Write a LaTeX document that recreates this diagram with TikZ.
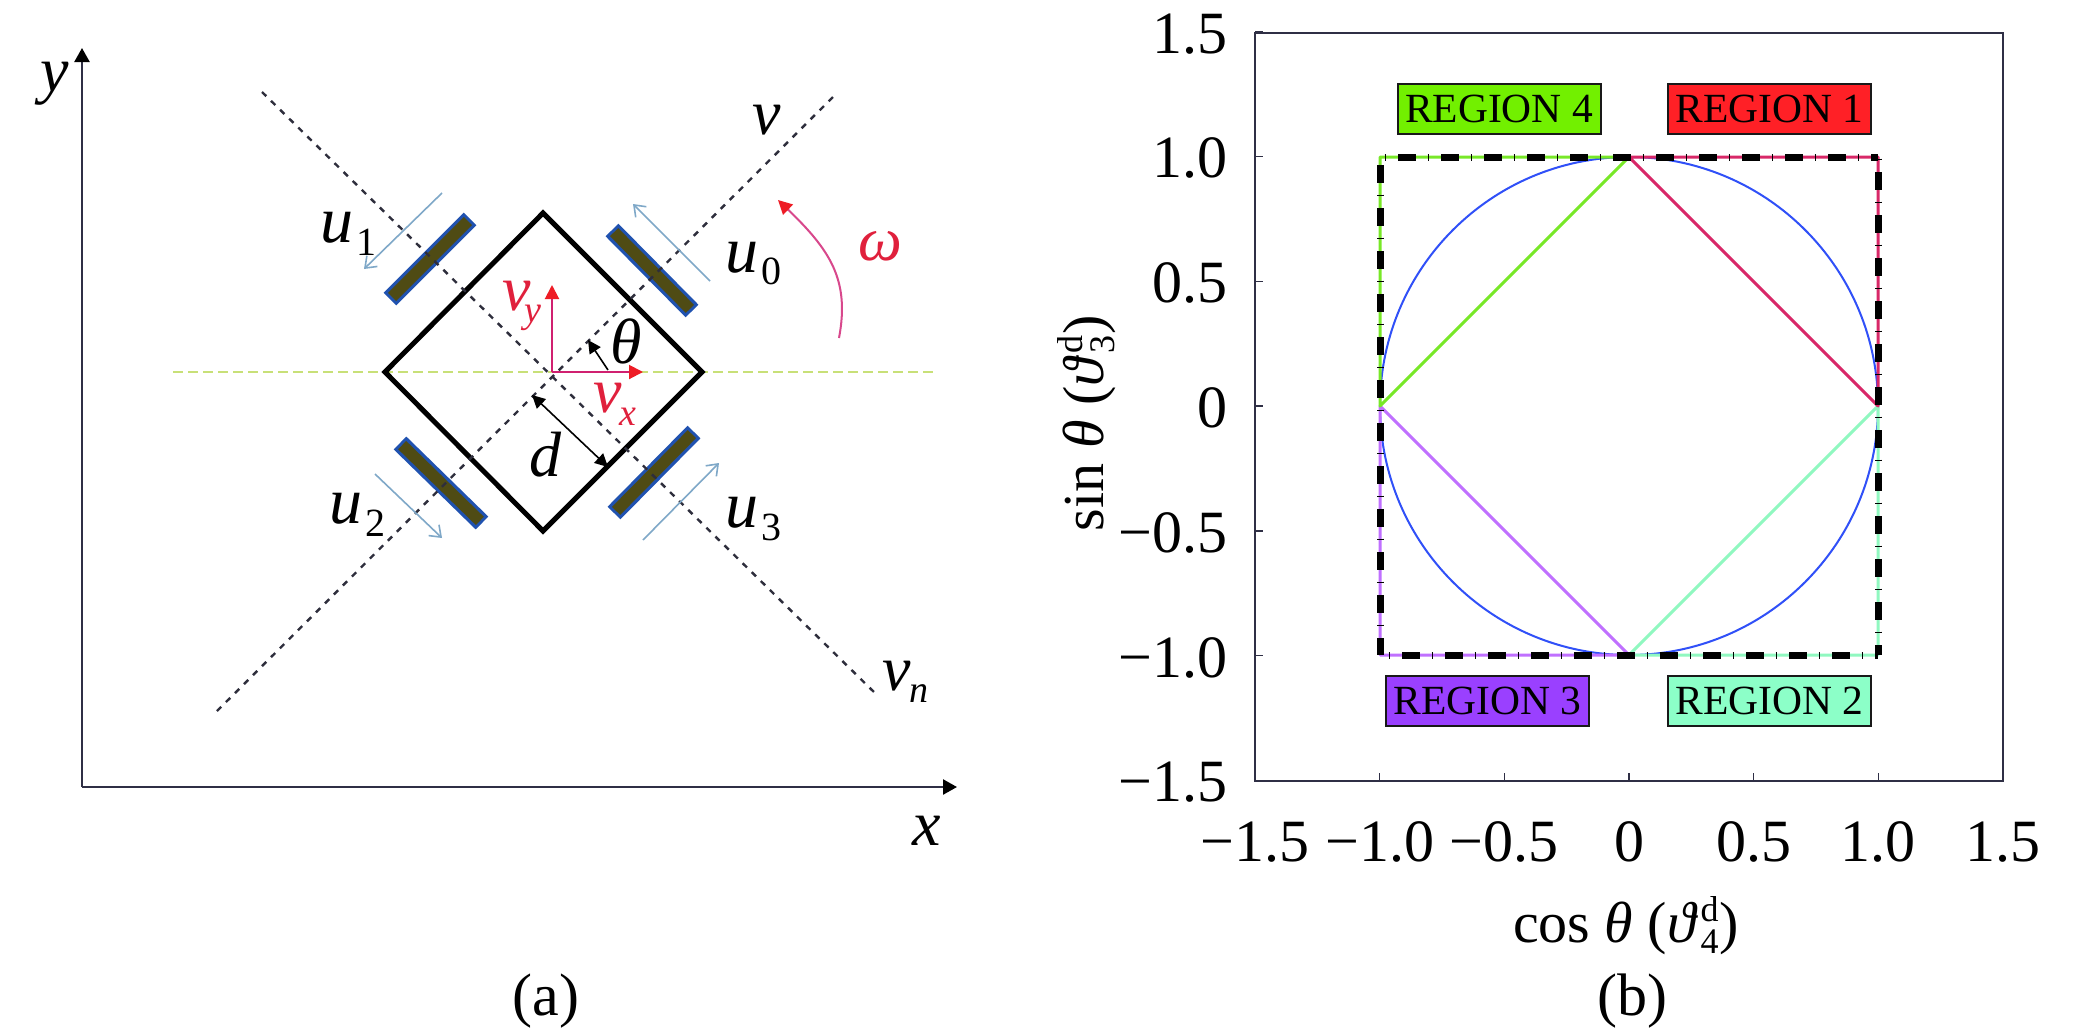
\documentclass[tikz,border=0pt]{standalone}
\usepackage{fontspec}
\setmainfont{Liberation Serif}
\usetikzlibrary{arrows.meta}
\definecolor{axisdark}{HTML}{2F2F45}
\definecolor{dashdark}{HTML}{2E2E3C}
\definecolor{greenline}{HTML}{C8E078}
\definecolor{wheelblue}{HTML}{2052B0}
\definecolor{wheelolive}{HTML}{4F4B14}
\definecolor{arrowblue}{HTML}{7FA8C8}
\definecolor{redtext}{HTML}{E0203C}
\definecolor{redshaft}{HTML}{D02070}
\definecolor{redhead}{HTML}{EE1C25}
\definecolor{omegashaft}{HTML}{D8488C}
\definecolor{regA}{HTML}{FF2026}
\definecolor{regB}{HTML}{8CFFC8}
\definecolor{regC}{HTML}{9A40FF}
\definecolor{regD}{HTML}{72F000}
\definecolor{lineA}{HTML}{D82868}
\definecolor{lineB}{HTML}{90F8C0}
\definecolor{lineC}{HTML}{C070FF}
\definecolor{lineD}{HTML}{78E828}
\definecolor{circ}{HTML}{3050F8}
\newcommand{\fsz}[1]{\fontsize{#1}{#1}\selectfont}
% main letter, subscript, drop, kern, subscript size, main size
\newcommand{\symb}[6]{\fsz{#6}\itshape #1\kern#4pt\raisebox{-#3pt}{\fsz{#5}#2}}
\newcommand{\symn}[6]{\fsz{#6}\itshape #1\kern#4pt\raisebox{-#3pt}{\fsz{#5}\upshape #2}}
% theta-like letter with superscript d and lower index
\newcommand{\varth}[1]{\itshape\symbol{"03D1}\upshape\kern5pt\rlap{\raisebox{21pt}{\fsz{36}d}}\raisebox{-11pt}{\fsz{36}#1}\kern1pt}
\tikzset{
  txt/.style={inner sep=0pt,outer sep=0pt,anchor=base west},
  axisline/.style={draw=axisdark,line width=2.4pt,-{Triangle[length=14pt,width=15pt,color=black]}},
  guide/.style={draw=dashdark,line width=2.4pt,dash pattern=on 6pt off 6.7pt},
  horiz/.style={draw=greenline,line width=2pt,dash pattern=on 10pt off 5pt},
  body/.style={draw=black,line width=5pt,line join=miter},
  wheelout/.style={draw=wheelblue,line width=18pt},
  wheelin/.style={draw=wheelolive,line width=11.5pt,shorten >=3pt,shorten <=3pt},
  thrust/.style={draw=arrowblue,line width=1.6pt,-{Straight Barb[length=10pt,width=15pt]}},
  vel/.style={draw=redshaft,line width=2pt,-{Triangle[length=14pt,width=14pt,color=redhead]}},
  dim/.style={draw=black,line width=1.6pt},
  dimtip/.tip={Triangle[length=13pt,width=13pt]},
  frameline/.style={draw=axisdark,line width=1.8pt},
  tickline/.style={draw=axisdark,line width=1.4pt},
  ticklab/.style={inner sep=0pt,outer sep=0pt,font=\fsz{60}},
  region/.style={draw=black!90,line width=2pt,minimum width=203pt,minimum height=50pt,inner sep=0pt,font=\fsz{41.5}},
  edgeline/.style={line width=3pt},
  bold/.style={draw=black,line width=7pt,dash pattern=on 18pt off 11.7pt on 1.6pt off 11.7pt},
}
\begin{document}
\begin{tikzpicture}[x=1pt,y=-1pt]
\useasboundingbox[fill=white] (0,0) rectangle (2079,1034);
% ---------- panel (a)
\coordinate (org) at (82,787);
\coordinate (ytip) at (82,48);
\coordinate (xtip) at (957,787);
\draw[axisline] (org) -- (ytip);
\draw[axisline] (org) -- (xtip);
\coordinate (hl) at (173,372); \coordinate (hr) at (933,372);
\draw[horiz] (hl) -- (hr);
\coordinate (vs) at (217,711); \coordinate (ve) at (837,93);
\coordinate (ns) at (262,92); \coordinate (ne) at (875,693);
\draw[body] (543,213) -- (702,372) -- (543,531) -- (385,372) -- cycle;
% wheels
\foreach \xa/\ya/\xb/\yb in {470/219/390/299,612/230/692/311,400/443/482/523,694/432/614/513}{
  \draw[wheelout] (\xa,\ya) -- (\xb,\yb);
  \draw[wheelin] (\xa,\ya) -- (\xb,\yb);
}
\draw[guide] (vs) -- (ve);
\draw[guide] (ns) -- (ne);
% wheel thrust arrows
\draw[thrust] (442,193) -- (364,269);
\draw[thrust] (710,281) -- (633,204);
\draw[thrust] (375,474) -- (442,538);
\draw[thrust] (643,540) -- (719,463);
% velocity arrows
\coordinate (vo) at (552,372);
\coordinate (vyt) at (552,285);
\coordinate (vxt) at (643,372);
\draw[vel] (vo) -- (vyt);
\draw[vel] (vo) -- (vxt);
% theta and d
\coordinate (tha) at (608,370); \coordinate (thb) at (588,340);
\draw[dim,-dimtip] (tha) -- (thb);
\coordinate (da) at (532,395); \coordinate (db) at (608,467);
\draw[dim,dimtip-dimtip] (da) -- (db);
% omega
\coordinate (oa) at (839,338); \coordinate (ob) at (778,200);
\draw[draw=omegashaft,line width=2pt,-{Triangle[length=14pt,width=14pt,color=redhead]}] (oa) .. controls (850,280) and (830,250) .. (ob);
% labels (a)
\node[txt] (ly) at (40,91) {\fsz{64}\itshape y};
\node[txt] (lx) at (912,845) {\fsz{64}\itshape x};
\node[txt] (lu1) at (320,242) {\symn{u}{1}{13}{3}{40}{66}};
\node[txt] (lu0) at (725,272) {\symn{u}{0}{12}{3}{40}{66}};
\node[txt] (lu2) at (329,523) {\symn{u}{2}{13}{3}{40}{66}};
\node[txt] (lu3) at (725,527) {\symn{u}{3}{13}{3}{40}{66}};
\node[txt] (lv) at (752,134) {\fsz{64}\itshape v};
\node[txt] (lvn) at (882,690) {\symb{v}{n}{12}{-1}{38}{64}};
\node[txt,text=redtext] (lvy) at (502,310) {\symb{v}{y}{12}{-6}{38}{64}};
\node[txt,text=redtext] (lvx) at (593,412) {\symb{v}{x}{13}{-2}{38}{64}};
\node[txt] (lth) at (610,363) {\fsz{64}\itshape θ};
\node[txt,text=redtext] (lom) at (858,260) {\fsz{62}\itshape ω};
\node[txt] (ld) at (529,476) {\fsz{64}\itshape d};
\node[inner sep=0pt,anchor=base,font=\fsz{60}] (capa) at (546,1015) {(a)};
% ---------- panel (b)
\coordinate (fa) at (1255,33); \coordinate (fb) at (2003,781);
\draw[frameline] (fa) rectangle (fb);
\foreach \t/\lab in {-1.5/−1.5,-1/−1.0,-0.5/−0.5,0/0,0.5/0.5,1/1.0,1.5/1.5}{
  \draw[tickline] ({1629+249.3*\t},781) -- ({1629+249.3*\t},773);
  \draw[tickline] (1255,{406-249.6*\t}) -- (1263,{406-249.6*\t});
  \node[ticklab,anchor=base] at ({1629+249.3*\t},861) {\lab};
  \node[ticklab,anchor=base east] at (1227,{406-249.6*\t+21.5}) {\lab};
}
% coloured edges
\coordinate (c) at (1629,406);
\coordinate (n) at (1629,157); \coordinate (s) at (1629,655);
\coordinate (e) at (1878,406); \coordinate (w) at (1380,406);
\coordinate (ne1) at (1878,157); \coordinate (nw1) at (1380,157);
\coordinate (se1) at (1878,655); \coordinate (sw1) at (1380,655);
\draw[circ,line width=2pt] (c) circle (249);
\draw[lineC,edgeline,line join=round] (w) -- (sw1) -- (s) -- cycle;
\draw[lineB,edgeline,line join=round] (s) -- (se1) -- (e) -- cycle;
\draw[lineD,edgeline,line join=round] (w) -- (nw1) -- (n) -- cycle;
\draw[lineA,edgeline,line join=round] (n) -- (ne1) -- (e) -- cycle;
\draw[bold,dash phase=25pt] (nw1) -- (ne1);
\draw[bold,dash phase=35pt] (nw1) -- (sw1);
\draw[bold,dash phase=28pt] (ne1) -- (se1);
\draw[bold,dash phase=21pt] (sw1) -- (se1);
\node[region,fill=regD] (r4) at (1499,108.5) {REGION 4};
\node[region,fill=regA] (r1) at (1769.5,108.5) {REGION 1};
\node[region,fill=regC] (r3) at (1487.5,700.5) {REGION 3};
\node[region,fill=regB] (r2) at (1769.5,700.5) {REGION 2};
\node[inner sep=0pt,anchor=base,font=\fsz{58}] (xl) at (1626,942) {cos \itshape θ \upshape(\varth{4})};
\node[inner sep=0pt,anchor=base,rotate=90,font=\fsz{58}] (yl) at (1103,423) {sin \itshape θ \upshape(\varth{3})};
\node[inner sep=0pt,anchor=base,font=\fsz{60}] (capb) at (1632,1015) {(b)};
\end{tikzpicture}
\end{document}
